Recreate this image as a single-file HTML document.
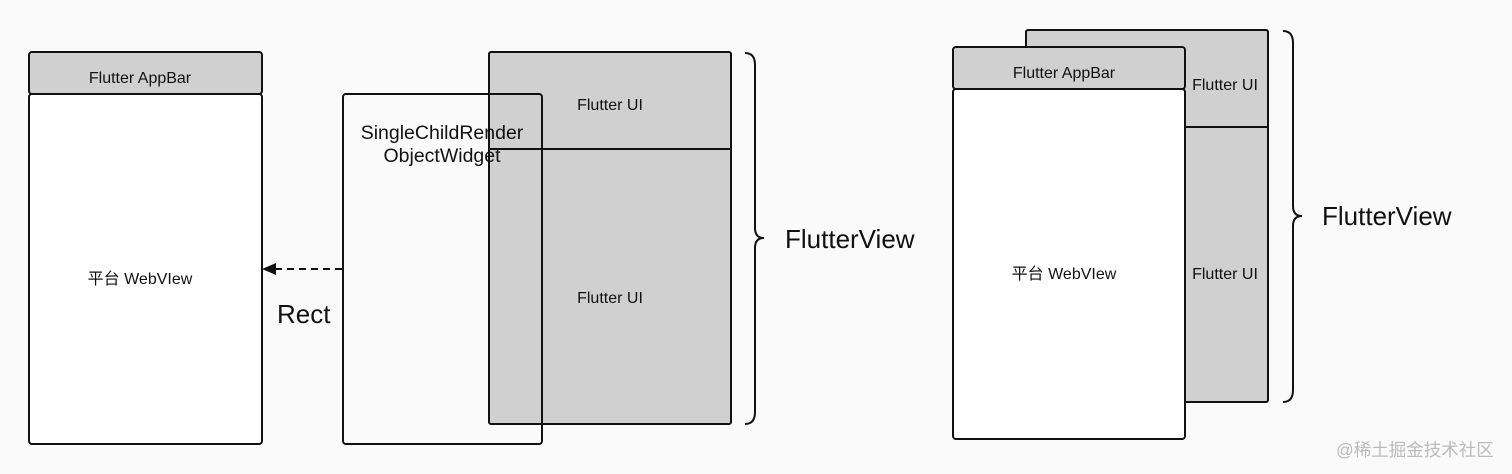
<!DOCTYPE html>
<html><head><meta charset="utf-8"><style>
html,body{margin:0;padding:0;background:#fafafa;}
svg{display:block;}
text{font-family:"Liberation Sans","Noto Sans CJK SC",sans-serif;fill:#111;}
</style></head><body>
<svg width="1512" height="474" viewBox="0 0 1512 474" xmlns="http://www.w3.org/2000/svg">
<rect width="1512" height="474" fill="#fafafa"/>
<g stroke="#111" stroke-width="2">
<rect x="29" y="52" width="233" height="42" rx="3" fill="#d0d0d0"/>
<rect x="29" y="94" width="233" height="350" rx="3" fill="#fff"/>
<rect x="489" y="52" width="242" height="372" rx="2" fill="#d0d0d0"/>
<line x1="489" y1="149" x2="731" y2="149"/>
<rect x="343" y="94" width="199" height="350" rx="3" fill="none"/>
<line x1="342" y1="269" x2="276" y2="269" stroke-dasharray="7,5"/>
<path d="M745,53 Q755,53 755,65 L755,228 Q755,238 764,238 Q755,238 755,248 L755,412 Q755,424 745,424" fill="none"/>
<rect x="1026" y="30" width="242" height="372" rx="2" fill="#d0d0d0"/>
<line x1="1185" y1="127" x2="1268" y2="127"/>
<rect x="953" y="47" width="232" height="42" rx="3" fill="#d0d0d0"/>
<rect x="953" y="89" width="232" height="350" rx="3" fill="#fff"/>
<path d="M1283,31 Q1293,31 1293,43 L1293,206 Q1293,216 1302,216 Q1293,216 1293,226 L1293,390 Q1293,402 1283,402" fill="none"/>
</g>
<polygon points="262,269 276,263 276,275" fill="#111"/>
<g font-size="16" text-anchor="middle">
<text x="140" y="83">Flutter AppBar</text>
<text x="140" y="284">平台 WebVIew</text>
<text x="610" y="110">Flutter UI</text>
<text x="610" y="303">Flutter UI</text>
<text x="1064" y="78">Flutter AppBar</text>
<text x="1064" y="279">平台 WebVIew</text>
<text x="1225" y="90">Flutter UI</text>
<text x="1225" y="279">Flutter UI</text>
</g>
<g font-size="19.5" text-anchor="middle">
<text x="442" y="139">SingleChildRender</text>
<text x="442" y="162">ObjectWidget</text>
</g>
<text x="277" y="323" font-size="26">Rect</text>
<text x="785" y="248" font-size="26">FlutterView</text>
<text x="1322" y="225" font-size="26">FlutterView</text>
<text x="1336" y="456" font-size="17.5" style="fill:#bbb">@稀土掘金技术社区</text>
</svg>
</body></html>
